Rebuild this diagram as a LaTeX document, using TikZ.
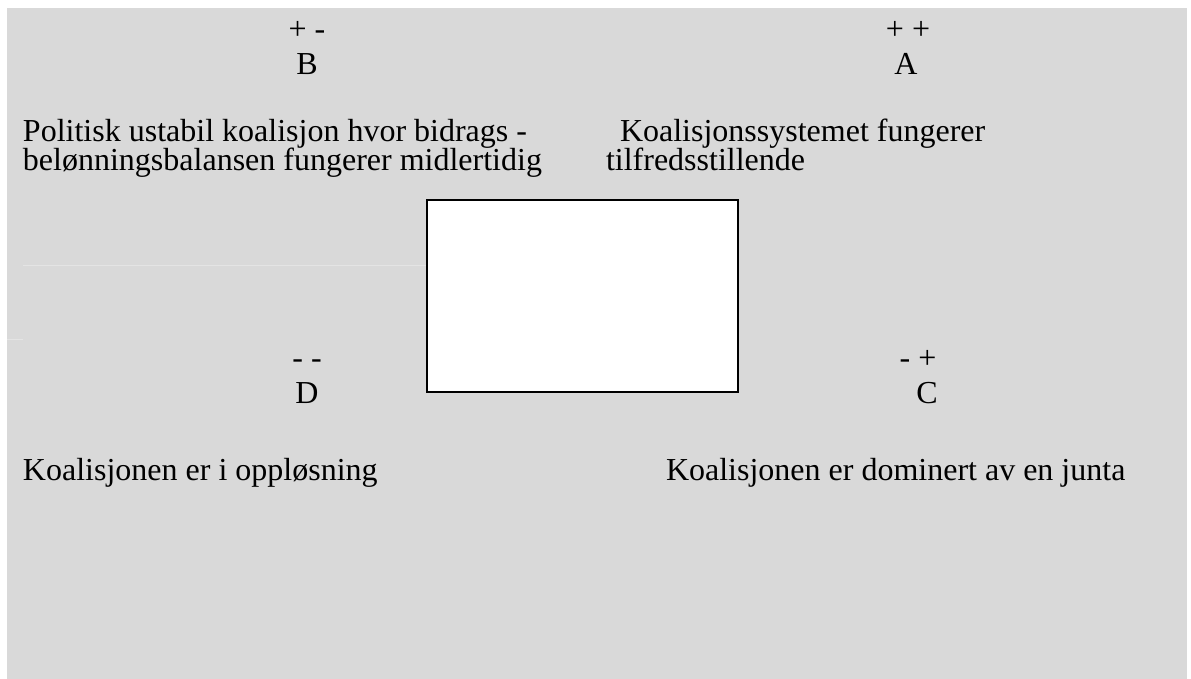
\documentclass[tikz,border=0pt]{standalone}
\usepackage{fontspec}
\setmainfont{Liberation Serif}
\definecolor{bggray}{HTML}{D9D9D9}
\definecolor{faint}{HTML}{E4E4E4}
\tikzset{
  lbl/.style={inner sep=0pt, outer sep=0pt, anchor=base west, font=\fontsize{32}{36}\selectfont},
  sign/.style={inner sep=0pt, outer sep=0pt, anchor=base, font=\fontsize{32}{36}\selectfont},
  frame/.style={draw=black, line width=2pt, fill=white}
}
\begin{document}
\begin{tikzpicture}[x=1pt,y=-1pt]
\useasboundingbox (0,0) rectangle (1191,679);
\fill[white] (0,0) rectangle (1191,679);
\fill[bggray] (7,8) rectangle (1187,679);
\draw[faint, line width=0.8pt] (23,265) -- (427,265);
\draw[faint, line width=0.8pt] (7,339) -- (23,339);
% quadrant B
\node[sign] (sB) at (307,40) {+ -};
\node[sign] (nB) at (307,75) {B};
\node[lbl] (tB1) at (23,142) {Politisk ustabil koalisjon hvor bidrags -};
\node[lbl] (tB2) at (23,171) {belønningsbalansen fungerer midlertidig};
% quadrant A
\node[sign] (sA) at (908,40) {+ +};
\node[sign] (nA) at (906,75) {A};
\node[lbl] (tA1) at (620,142) {Koalisjonssystemet fungerer};
\node[lbl] (tA2) at (606,171) {tilfredsstillende};
% centre box
\node[frame, minimum width=311pt, minimum height=192pt, inner sep=0pt] (box) at (582.5,296) {};
% quadrant D
\node[sign] (sD) at (307,368) {- -};
\node[sign] (nD) at (307,403) {D};
\node[lbl] (tD) at (23,480) {Koalisjonen er i oppløsning};
% quadrant C
\node[sign] (sC) at (918,368) {- +};
\node[sign] (nC) at (927,403) {C};
\node[lbl] (tC) at (666,480) {Koalisjonen er dominert av en junta};
\end{tikzpicture}
\end{document}
